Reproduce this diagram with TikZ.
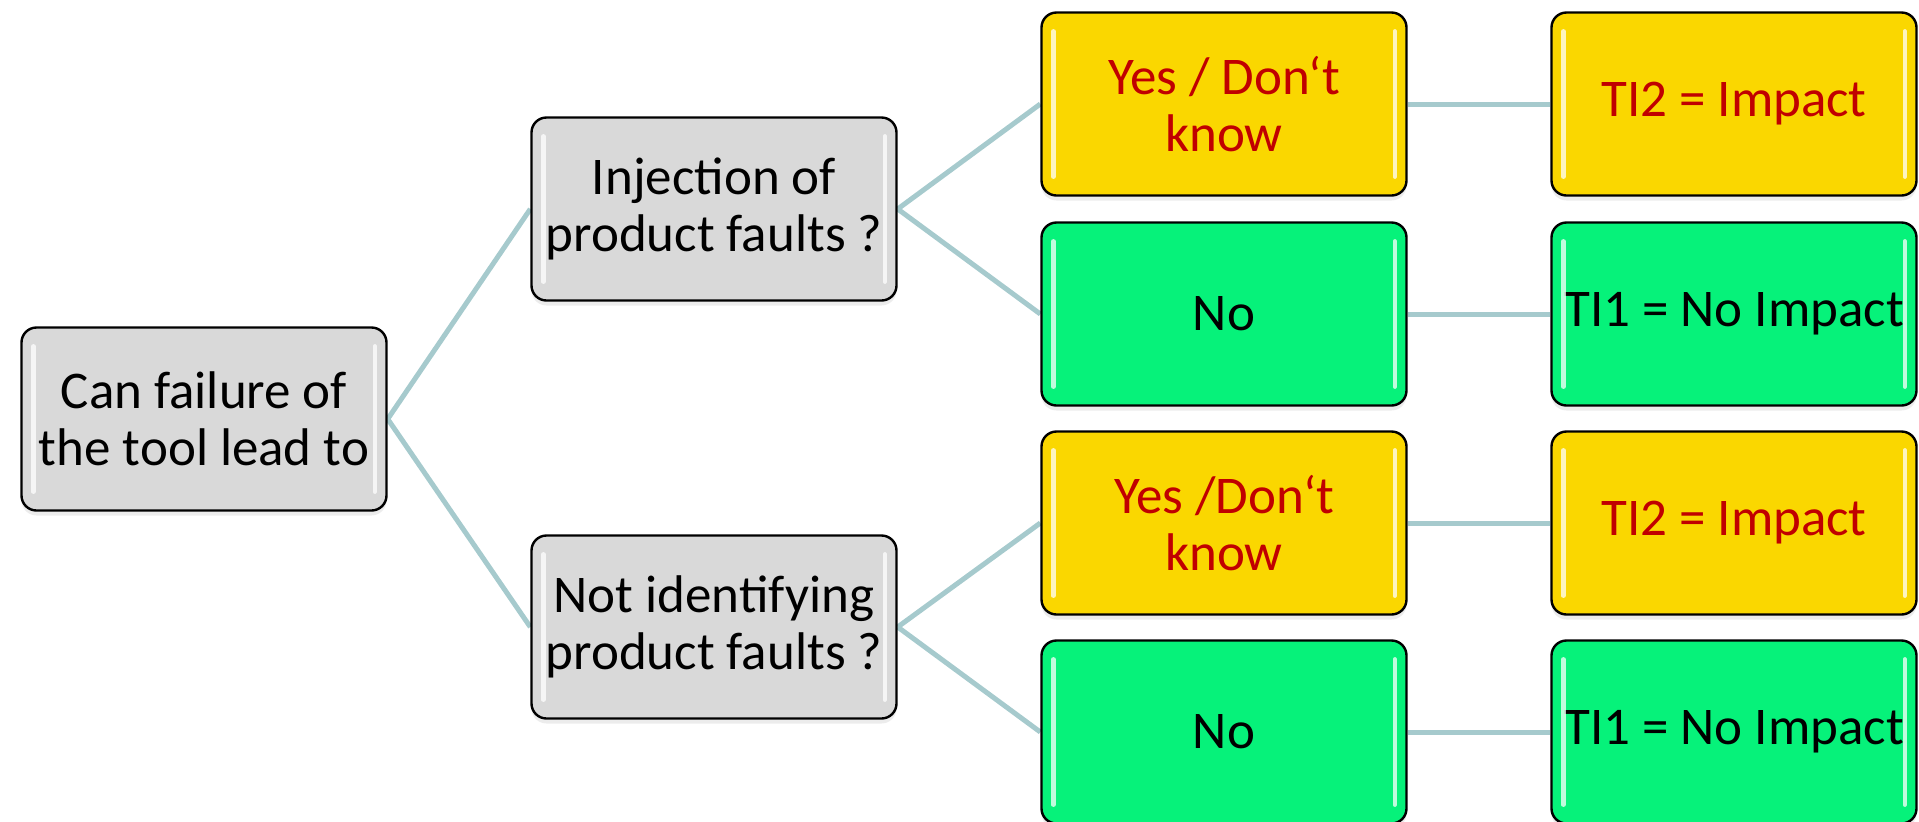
\documentclass[tikz,border=0pt]{standalone}
\usepackage{fontspec}
\setmainfont{Carlito}
\usetikzlibrary{shadows,backgrounds}

\definecolor{boxgray}{RGB}{217,217,217}
\definecolor{boxyellow}{RGB}{250,215,0}
\definecolor{boxgreen}{RGB}{6,242,122}
\definecolor{textred}{RGB}{192,0,0}
\definecolor{linkteal}{RGB}{166,202,205}

\begin{document}
\begin{tikzpicture}[
        x=0.5pt, y=-0.5pt,
        box/.style={draw=black, line width=1.2pt, rounded corners=7.5pt,
            minimum width=182.5pt, minimum height=91.5pt, inner sep=0pt,
            align=center, font=\fontsize{26.5}{28.5}\selectfont,
            drop shadow={shadow xshift=0pt, shadow yshift=-2.5pt, opacity=0.15}},
        question/.style={box, fill=boxgray},
        unsure/.style={box, fill=boxyellow, text=textred},
        safe/.style={box, fill=boxgreen},
        link/.style={draw=linkteal, line width=2.5pt},
        gloss/.style={white, line width=2.2pt, line cap=round, opacity=0.75},
    ]
    \useasboundingbox (0, 0) rectangle (1919, 821);

    % the question boxes
    \node[question] (root) at (204, 419) {Can failure of\\the tool lead to};
    \node[question] (inject) at (714, 209) {Injection of\\product faults ?};
    \node[question] (miss) at (714, 627) {Not identifying\\product faults ?};

    % answers and the tool impact they give
    \node[unsure] (inject-yes) at (1224, 104) {Yes / Don‘t\\know};
    \node[safe] (inject-no) at (1224, 314) {No};
    \node[unsure] (miss-yes) at (1224, 523) {Yes /Don‘t\\know};
    \node[safe] (miss-no) at (1224, 732) {No};

    \node[unsure] (inject-ti2) at (1734, 104) {TI2 = Impact};
    \node[safe] (inject-ti1) at (1734, 314) {TI1 = No Impact};
    \node[unsure] (miss-ti2) at (1734, 523) {TI2 = Impact};
    \node[safe] (miss-ti1) at (1734, 732) {TI1 = No Impact};

    % glossy edges of every box
    \foreach \n in {root, inject, miss, inject-yes, inject-no, miss-yes, miss-no,
            inject-ti2, inject-ti1, miss-ti2, miss-ti1} {
            \draw[gloss] ([xshift=6.5pt, yshift=-10pt]\n.north west)
            -- ([xshift=6.5pt, yshift=10pt]\n.south west);
            \draw[gloss] ([xshift=-6.5pt, yshift=-10pt]\n.north east)
            -- ([xshift=-6.5pt, yshift=10pt]\n.south east);
        }

    % the tree links
    \begin{scope}[on background layer]
        \draw[link] (root.east) -- (inject.west);
        \draw[link] (root.east) -- (miss.west);
        \foreach \q in {inject, miss} {
                \draw[link] (\q.east) -- (\q-yes.west);
                \draw[link] (\q.east) -- (\q-no.west);
                \draw[link] (\q-yes.east) -- (\q-ti2.west);
                \draw[link] (\q-no.east) -- (\q-ti1.west);
            }
    \end{scope}
\end{tikzpicture}
\end{document}
